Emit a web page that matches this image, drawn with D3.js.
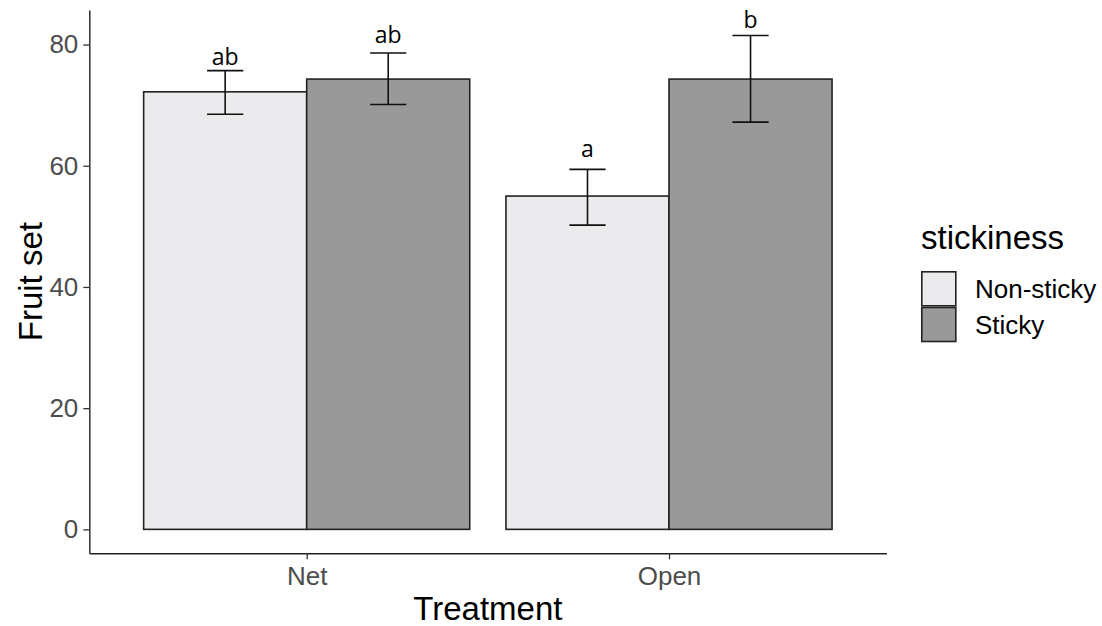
<!DOCTYPE html>
<html>
<head>
<meta charset="utf-8">
<script src="https://cdn.jsdelivr.net/npm/d3@7"></script>
<style>
  body { margin: 0; background: #fff; }
  svg { display: block; }
</style>
</head>
<body>
<div id="chart"></div>
<script>
// values
const treatments = ["Net", "Open"];
const stickiness = ["Non-sticky", "Sticky"];
const meanNonSticky = [72.2, 55.0];
const meanSticky = [74.3, 74.3];
const lowNonSticky = [68.5, 50.2];
const highNonSticky = [75.7, 59.4];
const lowSticky = [70.1, 67.2];
const highSticky = [78.6, 81.5];
const lettersNonSticky = ["ab", "a"];
const lettersSticky = ["ab", "b"];
const letterYNonSticky = [76.6, 61.5];
const letterYSticky = [80.3, 82.7];
const yTicks = [0, 20, 40, 60, 80];

const fills = { "Non-sticky": "#ebebed", "Sticky": "#999999" };

const width = 1102, height = 626;
const svg = d3.select("#chart")
    .append("svg")
    .attr("width", width)
    .attr("height", height);

// build rows
var rows = [];
treatments.forEach((t, i) => {
    rows.push({ treat: t, stick: "Non-sticky", mean: meanNonSticky[i], lo: lowNonSticky[i], hi: highNonSticky[i], letter: lettersNonSticky[i], ly: letterYNonSticky[i] });
    rows.push({ treat: t, stick: "Sticky", mean: meanSticky[i], lo: lowSticky[i], hi: highSticky[i], letter: lettersSticky[i], ly: letterYSticky[i] });
});

// discrete x as 1..n like ggplot, expanded 0.6 each side
const x = d3.scaleLinear().domain([0.4, treatments.length + 0.6]).range([89.3, 886.4]);
const dodge = d3.scaleBand().domain(stickiness).range([-0.45, 0.45]);
const y = d3.scaleLinear().domain([-3.95, 85.7]).range([553.3, 10]);

const pos = t => treatments.indexOf(t) + 1;
const center = d => x(pos(d.treat) + dodge(d.stick) + dodge.bandwidth() / 2);

// bars
svg.append("g")
    .selectAll("rect")
    .data(rows)
    .join("rect")
    .attr("x", d => x(pos(d.treat) + dodge(d.stick)))
    .attr("y", d => y(d.mean))
    .attr("width", d => x(pos(d.treat) + dodge(d.stick) + dodge.bandwidth()) - x(pos(d.treat) + dodge(d.stick)))
    .attr("height", d => y(0) - y(d.mean))
    .attr("fill", d => fills[d.stick])
    .attr("stroke", "#222")
    .attr("stroke-width", 1.6);

// error bars
const capHalf = (x(1.05) - x(1));
const eb = svg.append("g")
    .attr("stroke", "#111")
    .attr("stroke-width", 1.6)
    .selectAll("g")
    .data(rows)
    .join("g");
eb.append("line")
    .attr("x1", center).attr("x2", center)
    .attr("y1", d => y(d.lo)).attr("y2", d => y(d.hi));
eb.append("line")
    .attr("x1", d => center(d) - capHalf).attr("x2", d => center(d) + capHalf)
    .attr("y1", d => y(d.hi)).attr("y2", d => y(d.hi));
eb.append("line")
    .attr("x1", d => center(d) - capHalf).attr("x2", d => center(d) + capHalf)
    .attr("y1", d => y(d.lo)).attr("y2", d => y(d.lo));

// significance letters
svg.append("g")
    .selectAll("text")
    .data(rows)
    .join("text")
    .attr("x", center)
    .attr("y", d => y(d.ly))
    .attr("text-anchor", "middle")
    .attr("font-family", "'Open Sans', sans-serif")
    .attr("font-size", "23px")
    .attr("fill", "#000")
    .text(d => d.letter);

// axes
const yAxis = svg.append("g")
    .attr("transform", `translate(${x.range()[0]},0)`)
    .call(d3.axisLeft(y).tickValues(yTicks).tickSize(6).tickSizeOuter(0).tickPadding(5));
const xAxis = svg.append("g")
    .attr("transform", `translate(0,${y.range()[0]})`)
    .call(d3.axisBottom(x).tickValues(treatments.map((t, i) => i + 1))
        .tickFormat(v => treatments[v - 1]).tickSize(6).tickSizeOuter(0).tickPadding(7));

[yAxis, xAxis].forEach(a => {
    a.select(".domain").attr("stroke", "#222").attr("stroke-width", 1.4);
    a.selectAll(".tick line").attr("stroke", "#333").attr("stroke-width", 1.3);
    a.selectAll(".tick text")
        .attr("font-family", "'Liberation Sans', Arial, sans-serif")
        .attr("font-size", "26px")
        .attr("fill", "#4d4d4d");
});

// axis titles
svg.append("text")
    .attr("x", (x.range()[0] + x.range()[1]) / 2)
    .attr("y", 620)
    .attr("text-anchor", "middle")
    .attr("font-family", "'Liberation Sans', Arial, sans-serif")
    .attr("font-size", "33px")
    .attr("fill", "#000")
    .text("Treatment");

svg.append("text")
    .attr("transform", `translate(42,${(y.range()[0] + y.range()[1]) / 2}) rotate(-90)`)
    .attr("text-anchor", "middle")
    .attr("font-family", "'Liberation Sans', Arial, sans-serif")
    .attr("font-size", "33px")
    .attr("fill", "#000")
    .text("Fruit set");

// legend
const legend = svg.append("g").attr("transform", "translate(921,0)");
legend.append("text")
    .attr("x", 0)
    .attr("y", 249)
    .attr("font-family", "'Liberation Sans', Arial, sans-serif")
    .attr("font-size", "33px")
    .attr("fill", "#000")
    .text("stickiness");

const keys = legend.selectAll("g.key")
    .data(stickiness)
    .join("g")
    .attr("class", "key")
    .attr("transform", (d, i) => `translate(0,${271 + i * 35.7})`);
keys.append("rect")
    .attr("x", 0.8).attr("y", 0.8)
    .attr("width", 34).attr("height", 34)
    .attr("fill", d => fills[d])
    .attr("stroke", "#222")
    .attr("stroke-width", 1.6);
keys.append("text")
    .attr("x", 54)
    .attr("y", 27)
    .attr("font-family", "'Liberation Sans', Arial, sans-serif")
    .attr("font-size", "26px")
    .attr("fill", "#000")
    .text(d => d);
</script>
</body>
</html>
